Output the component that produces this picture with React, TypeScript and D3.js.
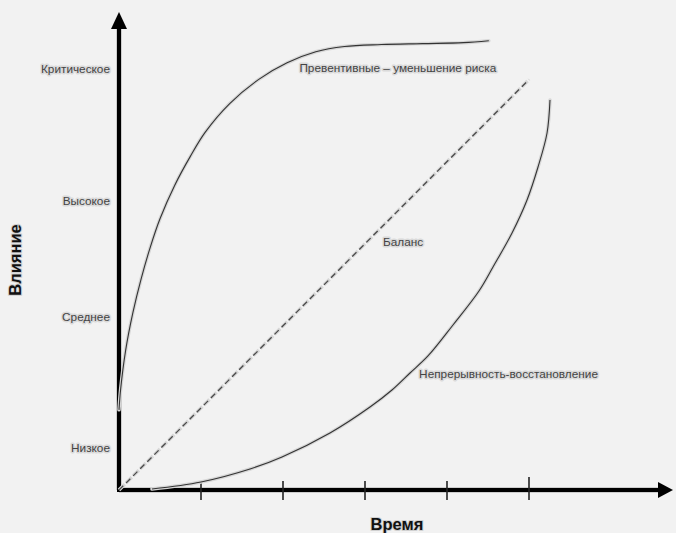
import React from "react";
import * as d3 from "d3";

const W = 676;
const H = 533;

// time units (ticks at 1..5), impact units 0..100
const timeTicks = [1, 2, 3, 4, 5];
const levelLabels = ["Низкое", "Среднее", "Высокое", "Критическое"];
const levelValues = [8.5, 35.8, 60, 87.5];

const preventiveX = [0, 0.02, 0.08, 0.17, 0.27, 0.38, 0.5, 0.68, 0.87, 1.05, 1.35, 1.7, 2.05, 2.4, 2.75, 3.2, 3.7, 4.2, 4.51];
const preventiveY = [16.7, 21, 29, 37, 44, 50.5, 56.5, 63.5, 69.5, 74.5, 80.5, 85.5, 89, 91.3, 92.4, 92.8, 93, 93.2, 93.6];

const balanceX = [0, 5.0];
const balanceY = [0, 85.5];

const continuityX = [0.402, 1.0, 1.598, 1.988, 2.573, 3.061, 3.329, 3.549, 3.768, 4.073, 4.39, 4.561, 4.793, 4.976, 5.11, 5.22, 5.256];
const continuityY = [0.21, 1.67, 4.38, 6.88, 11.88, 17.29, 20.83, 24.38, 27.92, 34.38, 41.46, 46.46, 53.54, 60.42, 67.29, 74.38, 81.25];

const seriesLabels = ["Превентивные – уменьшение риска", "Баланс", "Непрерывность-восстановление"];
const seriesLabelPos = [
  [2.2, 87.7],
  [3.22, 51.5],
  [3.66, 24.0],
];

const xTitle = "Время";
const yTitle = "Влияние";

const x = d3.scaleLinear().domain([0, 5]).range([119, 529]);
const y = d3.scaleLinear().domain([0, 100]).range([490, 10]);

const zip = (xs: number[], ys: number[]) => xs.map((v, i) => [v, ys[i]] as [number, number]);

const line = d3
  .line<[number, number]>()
  .x((d) => x(d[0]))
  .y((d) => y(d[1]))
  .curve(d3.curveCatmullRom.alpha(0.5));

const straight = d3
  .line<[number, number]>()
  .x((d) => x(d[0]))
  .y((d) => y(d[1]));

const font = "'Liberation Sans', Arial, sans-serif";

export default function App() {
  const x0 = x(0);
  const y0 = y(0);
  const xEnd = 673;
  const yTop = 12;
  const prevPath = line(zip(preventiveX, preventiveY)) || "";
  const contPath = line(zip(continuityX, continuityY)) || "";
  const balPath = straight(zip(balanceX, balanceY)) || "";

  const halo = { stroke: "#d6d6d6", strokeWidth: 3.5, fill: "none", strokeLinecap: "round" as const };
  const labelStyle = {
    fontFamily: font,
    fontSize: 11.8,
    fill: "#444",
    stroke: "#dadada",
    strokeWidth: 3,
    paintOrder: "stroke" as const,
    strokeLinejoin: "round" as const,
  };

  return (
    <svg
      width={W}
      height={H}
      style={{ position: "absolute", left: 0, top: 0, background: "#f2f2f2" }}
    >
      <rect width={W} height={H} fill="#f2f2f2" />

      {/* axes */}
      <line x1={x0} y1={y0} x2={x0} y2={yTop + 14} stroke="#cdcdcd" strokeWidth={6} />
      <line x1={x0} y1={y0} x2={xEnd - 12} y2={y0} stroke="#cdcdcd" strokeWidth={6} />
      <line x1={x0} y1={y0 + 2} x2={x0} y2={yTop + 14} stroke="#000" strokeWidth={4} />
      <line x1={x0 - 2} y1={y0} x2={xEnd - 12} y2={y0} stroke="#000" strokeWidth={4} />
      <polygon
        points={`${x0},${yTop} ${x0 - 8},${yTop + 17} ${x0 + 8},${yTop + 17}`}
        fill="#000"
      />
      <polygon
        points={`${xEnd},${y0} ${xEnd - 15},${y0 - 8} ${xEnd - 15},${y0 + 8}`}
        fill="#000"
      />

      {/* ticks */}
      {timeTicks.map((t, i) => (
        <line
          key={t}
          x1={x(t)}
          x2={x(t)}
          y1={i === 4 ? y0 - 13 : y0 - 9}
          y2={y0 + 10}
          stroke="#222"
          strokeWidth={1.6}
        />
      ))}

      {/* level labels */}
      {levelLabels.map((l, i) => (
        <text
          key={l}
          x={110}
          y={y(levelValues[i])}
          textAnchor="end"
          dominantBaseline="middle"
          {...labelStyle}
        >
          {l}
        </text>
      ))}

      {/* series */}
      <path d={prevPath} {...halo} />
      <path d={prevPath} fill="none" stroke="#333" strokeWidth={1.1} />
      <path d={contPath} {...halo} />
      <path d={contPath} fill="none" stroke="#333" strokeWidth={1.1} />
      <path d={balPath} {...halo} strokeDasharray="8,2" strokeLinecap="butt" />
      <path d={balPath} fill="none" stroke="#4a4a4a" strokeWidth={1.3} strokeDasharray="6,4" />

      {seriesLabels.map((s, i) => (
        <text
          key={s}
          x={x(seriesLabelPos[i][0])}
          y={y(seriesLabelPos[i][1])}
          dominantBaseline="middle"
          {...labelStyle}
        >
          {s}
        </text>
      ))}

      {/* axis titles */}
      <text
        x={397}
        y={530}
        textAnchor="middle"
        fontFamily={font}
        fontWeight="bold"
        fontSize={16.5}
        fill="#111"
        stroke="#d0d0d0"
        strokeWidth={2}
        paintOrder="stroke"
      >
        {xTitle}
      </text>
      <text
        transform={`translate(21,260) rotate(-90)`}
        textAnchor="middle"
        fontFamily={font}
        fontWeight="bold"
        fontSize={16.5}
        fill="#111"
        stroke="#d0d0d0"
        strokeWidth={2}
        paintOrder="stroke"
      >
        {yTitle}
      </text>
    </svg>
  );
}
